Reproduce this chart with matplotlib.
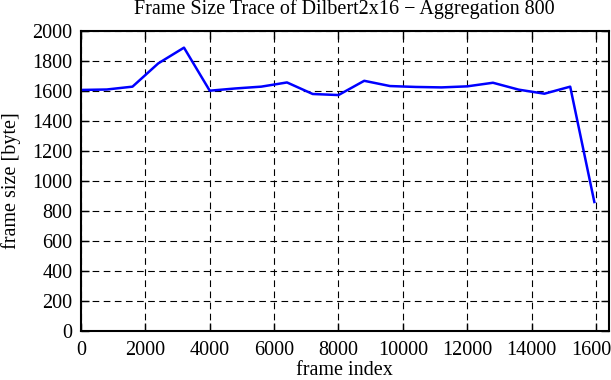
import matplotlib
matplotlib.use("Agg")
import matplotlib.pyplot as plt

frame_index = [0, 800, 1600, 2400, 3200, 4000, 4800, 5600, 6400, 7200, 8000,
               8800, 9600, 10400, 11200, 12000, 12800, 13600, 14400, 15200, 15950]
frame_size = [1607, 1610, 1629, 1784, 1889, 1602, 1617, 1629, 1657, 1580, 1573,
              1668, 1633, 1627, 1624, 1631, 1655, 1609, 1582, 1629, 860]
x_ticks = [0, 2000, 4000, 6000, 8000, 10000, 12000, 14000, 16000]
y_ticks = [0, 200, 400, 600, 800, 1000, 1200, 1400, 1600, 1800, 2000]

plt.rcParams['font.family'] = ['Liberation Serif', 'DejaVu Serif']
fs = 14.5
fig = plt.figure(figsize=(6.11, 3.8), dpi=100)
ax = fig.add_axes([81/611, 49/380, 527.5/611, 300/380])
ax.plot(frame_index, frame_size, color='#0000ff', linewidth=1.8)
ax.set_xlim(0, 16390)
ax.set_ylim(0, 2000)
ax.set_xticks(x_ticks)
ax.set_yticks(y_ticks)
ax.tick_params(direction='in', length=6, width=1, top=True, right=True,
               labelsize=fs)
ax.tick_params(axis='x', pad=7)
ax.tick_params(axis='y', pad=6)
ax.grid(True, color='black', linestyle=(0, (6, 4)), linewidth=0.8)
for s in ax.spines.values():
    s.set_linewidth(1.5)
ax.set_title('Frame Size Trace of Dilbert2x16 \u2212 Aggregation 800', fontsize=fs, pad=12)
ax.set_xlabel('frame index', fontsize=fs, labelpad=1)
ax.set_ylabel('frame size [byte]', fontsize=fs, labelpad=8)
fig.savefig('out.png', dpi=100)
